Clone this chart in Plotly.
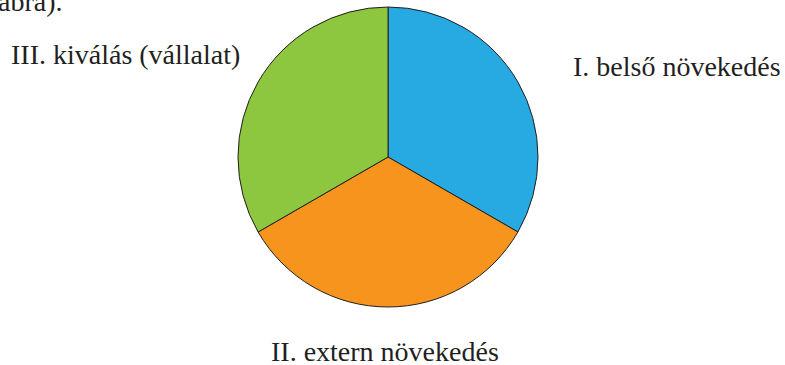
import plotly.graph_objects as go

# Three equal growth paths, clockwise from 12 o'clock
labels = ["I. belső növekedés", "II. extern növekedés", "III. kiválás (vállalat)"]
values = [1, 1, 1]
colors = ["#27A9E1", "#F7941E", "#8DC63F"]

W, H = 785, 365

fig = go.Figure(
    go.Pie(
        labels=labels,
        values=values,
        sort=False,
        direction="clockwise",
        rotation=0,
        marker=dict(colors=colors, line=dict(color="#231F20", width=1)),
        textinfo="none",
        hoverinfo="label",
        showlegend=False,
        domain=dict(x=[238 / W, 538 / W], y=[1 - 307 / H, 1 - 7 / H]),
    )
)

font = dict(family="Liberation Serif", size=28, color="#231F20")

# label positions (pixel centres) for each slice
label_pos = {
    labels[0]: (677, 66),
    labels[1]: (385, 351),
    labels[2]: (125, 55),
}
for name, (px, py) in label_pos.items():
    fig.add_annotation(
        text=name, x=px / W, y=1 - py / H, xref="paper", yref="paper",
        xanchor="center", yanchor="middle", showarrow=False, font=font,
    )

# tail of the preceding sentence, cut by the top edge
fig.add_annotation(
    text="ábra).", x=-4 / W, y=1 - 2 / H, xref="paper", yref="paper",
    xanchor="left", yanchor="middle", showarrow=False, font=font,
)

fig.update_layout(
    width=W, height=H,
    margin=dict(l=0, r=0, t=0, b=0),
    paper_bgcolor="white", plot_bgcolor="white",
)

fig.write_html("out.html")
